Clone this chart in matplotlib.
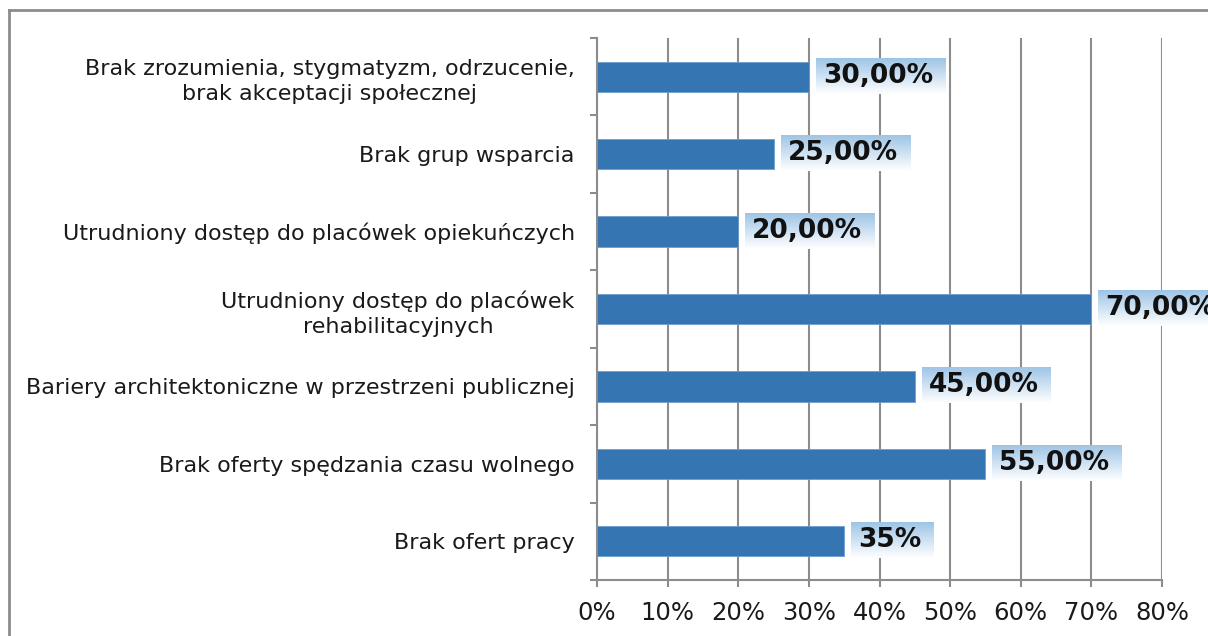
import numpy as np
import matplotlib
matplotlib.use("Agg")
import matplotlib.pyplot as plt
from matplotlib.lines import Line2D

categories = ["Brak zrozumienia, stygmatyzm, odrzucenie,\nbrak akceptacji społecznej",
              "Brak grup wsparcia",
              "Utrudniony dostęp do placówek opiekuńczych",
              "Utrudniony dostęp do placówek\nrehabilitacyjnych",
              "Bariery architektoniczne w przestrzeni publicznej",
              "Brak oferty spędzania czasu wolnego",
              "Brak ofert pracy"]
values = [30, 25, 20, 70, 45, 55, 35]
value_labels = ["30,00%", "25,00%", "20,00%", "70,00%", "45,00%", "55,00%", "35%"]
x_ticks = [0, 10, 20, 30, 40, 50, 60, 70, 80]

plt.rcParams['font.family'] = ['DejaVu Sans']

fig = plt.figure(figsize=(12.08, 6.36), dpi=100)
ax = fig.add_axes([597/1208, 1 - 580/636, (1162 - 597)/1208, (580 - 38)/636])

n = len(categories)
pos = np.arange(n)
ax.barh(pos, values, height=0.39, color="#3575b2", edgecolor="#6d9fd0",
        linewidth=0.6, zorder=2)
ax.set_xlim(0, 80)
ax.set_ylim(n - 0.5, -0.5)

#grid and axes styling
ax.set_axisbelow(True)
ax.set_xticks(x_ticks)
ax.set_xticklabels([f"{t}%" for t in x_ticks], fontsize=17.5, color="#1a1a1a")
ax.xaxis.grid(True, color="#8c8c8c", linewidth=1.5)
ax.set_yticks(pos)
ax.set_yticklabels(categories, fontsize=16, multialignment="center",
                   linespacing=1.35, color="#1a1a1a")
ax.set_yticks(np.arange(n + 1) - 0.5, minor=True)
ax.tick_params(axis="y", which="major", length=0, pad=16)
ax.tick_params(axis="y", which="minor", length=5, width=1.5, color="#8c8c8c")
ax.tick_params(axis="x", length=5, width=1.5, color="#8c8c8c", pad=10)
for s in ["top", "right"]:
    ax.spines[s].set_visible(False)
for s in ["left", "bottom"]:
    ax.spines[s].set_color("#8c8c8c")
    ax.spines[s].set_linewidth(1.5)

#value labels
texts = []
for i, (v, lab) in enumerate(zip(values, value_labels)):
    t = ax.annotate(lab, (v, i), xytext=(14, 1), textcoords="offset pixels",
                    ha="left", va="center", fontsize=19, fontweight="heavy",
                    color="#111111", zorder=4, annotation_clip=False)
    texts.append(t)

#gradient boxes behind value labels
fig.canvas.draw()
renderer = fig.canvas.get_renderer()
inv = ax.transData.inverted()
grad = np.linspace(0, 1, 64)[:, None]
top_c = np.array([0.62, 0.77, 0.90])
bot_c = np.array([1.0, 1.0, 1.0])
img = top_c[None, None, :] * (1 - grad[:, :, None]) + bot_c[None, None, :] * grad[:, :, None]
for i, t in enumerate(texts):
    bb = t.get_window_extent(renderer)
    yc = ax.transData.transform((0, i))[1] + 1
    x0, x1 = bb.x0 - 7, bb.x1 + 12
    (dx0, dy_top) = inv.transform((x0, yc + 18))
    (dx1, dy_bot) = inv.transform((x1, yc - 18))
    ax.imshow(img, extent=(dx0, dx1, dy_bot, dy_top), origin="upper",
              aspect="auto", zorder=3, clip_on=False)
ax.set_xlim(0, 80)
ax.set_ylim(n - 0.5, -0.5)

#outer frame (left and top edges visible)
fig.add_artist(Line2D([9/1208, 9/1208], [0, 1 - 10/636], transform=fig.transFigure,
                      color="#8c8c8c", linewidth=2))
fig.add_artist(Line2D([9/1208, 1], [1 - 10/636, 1 - 10/636], transform=fig.transFigure,
                      color="#8c8c8c", linewidth=2))

fig.savefig("out.png", dpi=100)
